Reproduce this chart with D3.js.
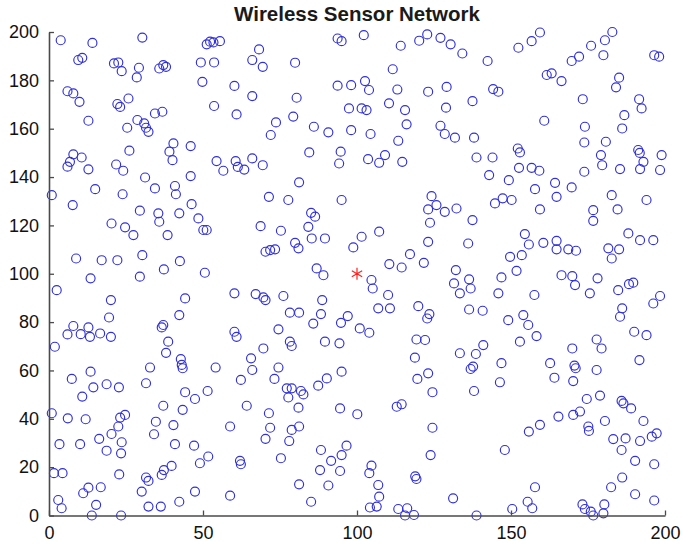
<!DOCTYPE html>
<html>
<head>
<meta charset="utf-8">
<script src="https://cdn.jsdelivr.net/npm/d3@7"></script>
<style>
  html, body { margin: 0; padding: 0; background: #ffffff; }
  svg { display: block; }
</style>
</head>
<body>
<svg id="chart" width="683" height="551"></svg>
<script>
const titleText = "Wireless Sensor Network";
const xTicks = [0, 50, 100, 150, 200];
const yTicks = [0, 20, 40, 60, 80, 100, 120, 140, 160, 180, 200];
const sinkX = [100];
const sinkY = [100];

const nodeX = [
3.8,14.1,30.3,9.5,10.8,21.1,22.5,23.6,29.2,28.5,35.8,37.1,38,6,7.9,9.9,22.2,23.1,25.8,12.8,25.4,28.7,30.9,31.5,32.3,34.4,36.8,40.4,39.1,40.1,46,26.1,7.9,6.8,6,10.6,12.8,21.8,24.1,31.2,46,34.4,40.9,15,
51.2,52.3,53.4,55.5,49.3,53.6,49.8,68.2,66,69.4,79.9,60.2,66,80.4,53.6,60.9,73.7,72,79.3,86,90.7,84.5,94.7,94.2,93.7,98.1,97.4,98.1,93.7,95,54.4,56.6,60.6,61.3,63.4,66,69.4,81.2,
102.2,114.2,120.2,122.8,127.1,130.4,134.2,142.4,111.6,102.6,103.9,113.1,123.1,129.1,144.2,145.9,137.5,128.9,101.5,103.1,110.4,115.6,116.1,104.4,113.4,127.1,128.5,131.8,138,103.6,107.2,109.1,114.7,138.8,144,142.9,
152.4,156.7,159.4,161.6,163.2,166.4,169.7,172.1,176,180,180.5,182.9,185.1,184.1,196.5,198.1,173.3,191.6,192.4,186.8,186.1,160.8,174,173.8,180.8,152.2,152.9,191.3,191.8,198.9,179.2,179.6,152.6,156.7,159.2,173.8,185.4,191.9,198.4,193,149.3,164.3,157.8,169.7,
0.9,23.9,41.2,7.7,29.5,35.5,35.8,42.3,46.3,20.3,24.7,27.4,38.5,8.8,17.1,22.2,30.3,42.5,37.3,29.5,13.5,2.5,20.1,44.2,19.5,42.3,37.1,36.6,38.7,7.9,6,10.3,12.8,13.3,16.6,20.1,1.9,38,
71.4,77.7,95,48.5,50.1,51.2,68.7,75.3,85.1,86.4,84.2,85.3,89.6,79.9,81,70.3,71.8,73.4,50.6,86.9,89.1,60.2,67.1,69.6,70.3,76.1,88.7,78.2,81.2,88.3,85.8,94.8,97,60.2,60.9,74.5,78.2,78.8,89.6,94.3,69.6,
124.2,125.8,123.1,128.5,132.3,137.5,123.7,144.8,147.3,107.2,101.5,98.8,123.1,136.1,117.2,110.5,114.5,121.7,132.1,131.5,133.4,136.4,136.9,146.9,145.9,104.7,105.1,110.1,106.9,110.7,119.9,123.5,122.8,136.4,140.8,100.9,104,119.3,122.1,133.4,138.6,141,
150.2,164.8,182.7,194,159.4,176.7,176.7,184.6,154.5,155.8,160.5,164.8,164.8,168.6,171.1,149.7,153.5,181.6,185.1,182.7,188.1,191.9,196.2,151.8,166.4,169.9,170.8,178.1,157.6,175.6,184.8,188.3,189.7,196.2,198.4,149.1,154,155.6,158.3,152.9,186.1,185.4,190,194,177.8,179.4,169.9,
42.8,43.4,43.1,32.8,13.5,7.4,14.4,18.7,22.7,31.5,10.8,44.2,47.4,37.1,43.4,0.9,6.1,11.9,23.1,24.7,22.5,20.3,23.6,23.4,18.7,16.3,34.7,34.1,40.4,40.9,47.1,3.4,10.1,1.6,4.4,22.8,39.8,37.3,36.6,31.5,32.3,12.8,11.1,16.8,30.1,47.4,3,4.1,15.3,13.9,23.4,32.3,36.3,42.3,
65.6,54.1,66,62.3,74.5,73.2,51.5,77.2,78.8,77.7,81.8,82.6,87.4,90.2,95,81,64.2,71.4,94.5,58.8,71.8,70.3,78.8,81.2,78,49,51.7,62,62.3,75.3,88.3,96.6,95,91.6,88,94.5,81.2,90.7,58.8,85.1,
118.8,136.9,137.7,146.9,146.4,119.6,123.1,124.5,138,112.9,114.5,100.1,124.5,148,123.9,104.7,104,106.9,107.2,104.2,106.4,119.3,118.9,131.2,113.4,116.3,115.6,118.5,138.8,
162.7,164.1,170.6,171,170.2,177.8,191.7,174.6,178.9,185.9,186.5,189,193,165.4,170.2,172.4,180.5,175.1,175.3,155.8,159.4,183.2,187.2,185.9,191.9,195.7,197.3,190.3,196.5,186.1,182.5,190.3,196.5,157.8,155.4,156.9,150.4,173.2,174,175.9,176.7,180.3,180
];

const nodeY = [
196.6,195.5,197.7,188.4,189.3,187,187.4,183.8,185.2,181.2,184.9,186.3,185.6,175.5,174.6,171.1,170.2,169,172.5,163.3,160.4,163.6,162.2,160.4,158.7,166.3,167,153.9,150.5,147,152.8,150.9,149.4,146.3,144.3,148.1,143.2,145.2,142.6,139.8,140.4,135.3,136.3,135,
194.9,196,195.7,196.2,187.4,187.4,179.4,192.8,188.4,185.6,187.3,177.7,173.5,172.8,169.4,165.9,162.6,157.4,165,160.8,158.5,150.2,150.5,145.6,177.8,178,168.4,159.4,197.3,196.2,146.6,142.6,146.6,144.2,143.1,147.7,144.9,137.8,
198.7,194.3,196.4,199,197.6,194.9,191.1,188,184.6,179.7,176,176.2,175.3,177.3,176.4,175.3,171.4,168.7,168.4,167.7,170.5,167.7,161.8,157.8,155,161.2,157.8,156.3,156.3,147.4,145.9,149.1,146.3,148.1,148.1,140.8,
193.5,196.2,199.8,182.2,182.9,179.7,188,189.8,194.3,190.4,196.6,200,181.1,177.1,190.4,189.8,172.2,172.2,168.4,165.6,160.1,163.3,160.8,154.3,154.6,151.8,150.2,151.2,150,149.1,149.1,144.9,143.8,143.8,142.6,142.2,143.3,143.3,142.9,146.3,138.7,137.6,135,135.7,
132.5,132.9,132.9,128.4,126.1,125,121.5,125,128.8,120.8,119.2,116,116,106.3,105.6,105.6,107.7,105.2,101.8,98.8,98.1,93.2,89.1,89.8,81.9,82.9,78.8,77.8,71.9,78.4,74.9,75,77.8,73.9,75.3,73.9,69.8,67.3,
131.8,130.5,130.5,122.9,118.1,118.1,119.7,117.8,125.2,123.6,119.4,114.6,114.6,112.8,110.5,109.1,109.8,110.1,100.4,102.2,99.4,91.9,91.6,90.2,89.1,90.8,89.1,83.9,83.9,83.3,79.4,79.7,82.5,76,73.9,77,71.9,70.1,71.9,71.2,69.1,
132.1,128.4,126.6,125.6,127,122.2,121.1,129.1,131.2,117.4,115.3,110.9,113.2,112.5,108.1,104,102.6,104.5,101.5,96,91.9,97.7,93.9,98.5,91.9,97.4,93.9,91.2,85.7,85.7,86.6,83.3,81.5,85.2,84.7,77.4,75.6,72.8,72.6,67.1,66.8,70.5,
130.5,131.8,132.5,130.5,126.6,126.3,121.9,126.6,116.4,112.1,112.8,113.6,110.1,110.1,109.5,107,107.7,110.5,110.1,106.3,116.7,113.9,113.9,101.2,99.4,99,95.3,98.1,91.2,91.9,93.2,95.7,96.3,87.7,90.8,80.8,82.9,78.8,74.2,71.9,85.7,82.2,76,74.6,72.8,69.1,69.1,
64.7,60.9,62.3,61.2,59.5,56.5,53,54.3,53,54.7,49.2,51,48.2,45.4,43.7,42.3,40.2,39.8,40.5,41.6,36.8,33.7,30.3,25.7,26.8,31.7,38.8,33.6,37.4,29.5,28.9,29.5,29.5,17.5,17.5,17,20.5,18.8,16.8,15.7,14.3,11.5,9.2,11.7,9.9,9.9,6.4,3,4.4,0,0,3.7,3.7,5.7,
65,61.2,60.2,56.1,61.2,56.5,51.5,52.6,52.6,48.8,51.5,50.1,53.7,56.7,59.5,44.6,45.4,42.3,44.3,36.8,36.3,31.7,35.4,36.8,30.8,21.6,24.4,22.6,21.2,23.7,27.1,28.9,25,22.6,18.8,18.4,12.9,12.4,8.2,5.7,
65.3,60.6,61.6,63,55.1,56.5,58.8,51,51.5,45,46,41.9,36.3,27.1,25,20.6,17.5,12.6,7.8,3.3,3.7,15.1,16.2,7.1,2.7,3,0,0.2,0,
63,57,62,60.9,55.6,60.2,64.3,48.2,49.6,47.4,46.4,44.3,39.1,40.9,41.6,43,39.1,36.8,35,34.7,37.5,31.6,31.9,27.1,30.8,32.6,34,22.6,21.2,15.7,11.7,8.8,6.2,11.7,5.7,3,2.7,4.6,2.7,1.6,0,4.6,0.9
];

const nodes = nodeX.map((v, i) => ({ x: v, y: nodeY[i] }));
const sinks = sinkX.map((v, i) => ({ x: v, y: sinkY[i] }));

const svg = d3.select("#chart");
const plotL = 49, plotR = 665, plotT = 32, plotB = 515.5;

const xScale = d3.scaleLinear().domain([0, 200]).range([plotL, plotR]);
const yScale = d3.scaleLinear().domain([0, 200]).range([plotB, plotT]);

const fontFam = "'Liberation Sans', Arial, sans-serif";

// sensor nodes
svg.append("g")
  .selectAll("circle")
  .data(nodes)
  .join("circle")
  .attr("cx", d => xScale(d.x))
  .attr("cy", d => yScale(d.y))
  .attr("r", 4.5)
  .attr("fill", "none")
  .attr("stroke", "#3030dc")
  .attr("stroke-width", 1.15);

// sink
svg.append("g")
  .selectAll("path")
  .data(sinks)
  .join("path")
  .attr("transform", d => `translate(${xScale(d.x)},${yScale(d.y)})`)
  .attr("d", d3.symbol().type(d3.symbolAsterisk).size(100))
  .attr("fill", "none")
  .attr("stroke", "#ff2020")
  .attr("stroke-width", 1.2);

// axes
const xAxis = d3.axisBottom(xScale).tickValues(xTicks).tickSizeInner(-5).tickSizeOuter(0).tickPadding(11);
const yAxis = d3.axisLeft(yScale).tickValues(yTicks).tickSizeInner(-5).tickSizeOuter(0).tickPadding(10);

const gx = svg.append("g").attr("transform", `translate(0,${plotB})`).call(xAxis);
const gy = svg.append("g").attr("transform", `translate(${plotL},0)`).call(yAxis);

[gx, gy].forEach(g => {
  g.select(".domain").attr("stroke", "#4a4a4a").attr("stroke-width", 1.6);
  g.selectAll(".tick line").attr("stroke", "#4a4a4a").attr("stroke-width", 1.3);
  g.selectAll(".tick text")
    .attr("fill", "#111")
    .style("font-family", fontFam)
    .style("font-size", "18px");
});

svg.append("text")
  .attr("x", (plotL + plotR) / 2)
  .attr("y", 21)
  .attr("text-anchor", "middle")
  .style("font-family", fontFam)
  .style("font-size", "20.5px")
  .style("font-weight", "bold")
  .attr("fill", "#1a1a1a")
  .text(titleText);
</script>
</body>
</html>
